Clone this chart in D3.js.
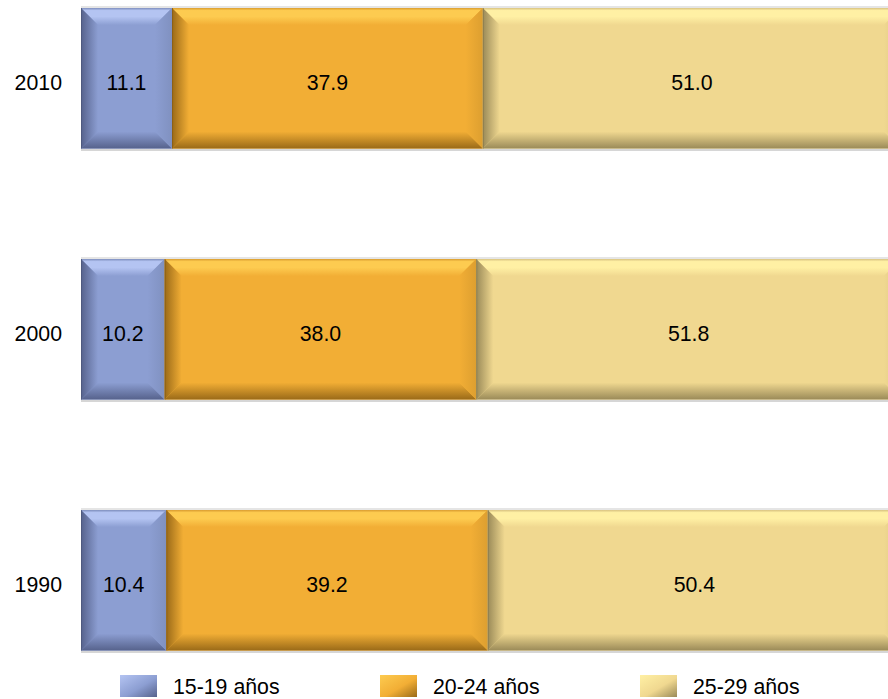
<!DOCTYPE html>
<html>
<head>
<meta charset="utf-8">
<script src="https://cdn.jsdelivr.net/npm/d3@7"></script>
<style>
  html, body { margin: 0; padding: 0; background: #ffffff; }
  svg { display: block; }
  text { font-family: "Liberation Sans", Arial, sans-serif; }
</style>
</head>
<body>
<svg id="chart" width="888" height="699"></svg>
<script>
// ---- data ----
const years = ["2010", "2000", "1990"];
const seriesNames = ["15-19 años", "20-24 años", "25-29 años"];
const s1519 = [11.1, 10.2, 10.4];
const s2024 = [37.9, 38.0, 39.2];
const s2529 = [51.0, 51.8, 50.4];

// ---- styles ----
const baseColors = ["#8C9ED2", "#F2AE35", "#F0D890"];
const lightColors = ["#B4C4F2", "#FDCB50", "#FFF0A4"];
const darkColors = ["#56628C", "#9A6A18", "#9A8A58"];

const svg = d3.select("#chart");
const defs = svg.append("defs");

const rows = years.map((y, i) => ({ year: y, vals: [s1519[i], s2024[i], s2529[i]] }));

const x = d3.scaleLinear().domain([0, 100]).range([81, 901]);
const yBand = d3.scaleBand().domain(years).range([8, 650.6]).paddingInner(0.44).paddingOuter(0);

// gradients per series
baseColors.forEach((c, k) => {
  const top = defs.append("linearGradient").attr("id", "gt" + k).attr("x1", 0).attr("y1", 0).attr("x2", 0).attr("y2", 1);
  top.append("stop").attr("offset", 0).attr("stop-color", d3.color(baseColors[k]).darker(0.3));
  top.append("stop").attr("offset", 0.15).attr("stop-color", lightColors[k]);
  top.append("stop").attr("offset", 0.5).attr("stop-color", lightColors[k]);
  top.append("stop").attr("offset", 1).attr("stop-color", baseColors[k]);

  const bot = defs.append("linearGradient").attr("id", "gb" + k).attr("x1", 0).attr("y1", 0).attr("x2", 0).attr("y2", 1);
  bot.append("stop").attr("offset", 0).attr("stop-color", baseColors[k]);
  bot.append("stop").attr("offset", 1).attr("stop-color", darkColors[k]);

  const left = defs.append("linearGradient").attr("id", "gl" + k).attr("x1", 0).attr("y1", 0).attr("x2", 1).attr("y2", 0);
  left.append("stop").attr("offset", 0).attr("stop-color", darkColors[k]);
  left.append("stop").attr("offset", 1).attr("stop-color", baseColors[k]);

  const right = defs.append("linearGradient").attr("id", "gr" + k).attr("x1", 0).attr("y1", 0).attr("x2", 1).attr("y2", 0);
  right.append("stop").attr("offset", 0).attr("stop-color", baseColors[k]);
  right.append("stop").attr("offset", 1).attr("stop-color", d3.color(baseColors[k]).darker(0.25));

  const sw = defs.append("linearGradient").attr("id", "gs" + k).attr("x1", 0).attr("y1", 0).attr("x2", 1).attr("y2", 1);
  sw.append("stop").attr("offset", 0).attr("stop-color", lightColors[k]);
  sw.append("stop").attr("offset", 0.55).attr("stop-color", baseColors[k]);
  sw.append("stop").attr("offset", 1).attr("stop-color", darkColors[k]);
});

const b = 17;
const g = svg.append("g");

rows.forEach(r => {
  const y0 = yBand(r.year), y1 = y0 + yBand.bandwidth();
  // faint shadow lines
  g.append("line").attr("x1", x(0)).attr("x2", x(100)).attr("y1", y0 - 1).attr("y2", y0 - 1)
    .attr("stroke", "#dcdcdc").attr("stroke-width", 1.5);
  g.append("line").attr("x1", x(0)).attr("x2", x(100)).attr("y1", y1 + 1.5).attr("y2", y1 + 1.5)
    .attr("stroke", "#d6d6d6").attr("stroke-width", 2);
  let acc = 0;
  r.vals.forEach((v, k) => {
    const x0 = x(acc), x1 = x(acc + v);
    acc += v;
    const seg = g.append("g");
    seg.append("rect").attr("x", x0).attr("y", y0).attr("width", x1 - x0).attr("height", y1 - y0)
      .attr("fill", baseColors[k]);
    const poly = pts => pts.map(p => p.join(",")).join(" ");
    seg.append("polygon").attr("points", poly([[x0, y0], [x1, y0], [x1 - b, y0 + b], [x0 + b, y0 + b]]))
      .attr("fill", `url(#gt${k})`);
    seg.append("polygon").attr("points", poly([[x0 + b, y1 - b], [x1 - b, y1 - b], [x1, y1], [x0, y1]]))
      .attr("fill", `url(#gb${k})`);
    seg.append("polygon").attr("points", poly([[x0, y0], [x0 + b, y0 + b], [x0 + b, y1 - b], [x0, y1]]))
      .attr("fill", `url(#gl${k})`);
    seg.append("polygon").attr("points", poly([[x1 - b, y0 + b], [x1, y0], [x1, y1], [x1 - b, y1 - b]]))
      .attr("fill", `url(#gr${k})`);
    seg.append("line").attr("x1", x0 + 0.5).attr("x2", x0 + 0.5).attr("y1", y0).attr("y2", y1)
      .attr("stroke", d3.color(darkColors[k]).darker(0.4)).attr("stroke-opacity", 0.7);
    seg.append("text").attr("x", (x0 + x1) / 2).attr("y", (y0 + y1) / 2)
      .attr("text-anchor", "middle").attr("dy", "0.55em")
      .attr("font-size", "21.3px").attr("fill", "#000")
      .text(v.toFixed(1));
  });
  g.append("text").attr("x", 62).attr("y", (y0 + y1) / 2).attr("text-anchor", "end").attr("dy", "0.55em")
    .attr("font-size", "21.3px").attr("fill", "#000").text(r.year);
});

// legend
const legX = d3.scalePoint().domain(seriesNames).range([120, 640]);
seriesNames.forEach((n, k) => {
  const lx = legX(n);
  svg.append("rect").attr("x", lx).attr("y", 675).attr("width", 37).attr("height", 22)
    .attr("fill", `url(#gs${k})`);
  svg.append("text").attr("x", lx + 53).attr("y", 693.5).attr("font-size", "21.3px").attr("fill", "#000").text(n);
});
</script>
</body>
</html>
